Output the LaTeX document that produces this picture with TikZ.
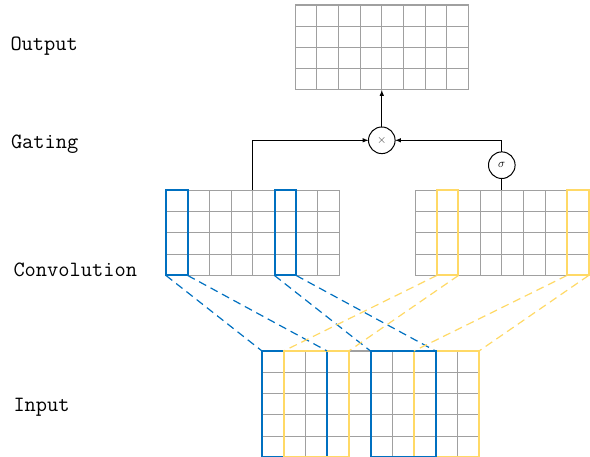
\documentclass[tikz,border=0pt]{standalone}
\usepackage{amsmath}
\usepackage{xcolor}
\usepackage{tikz}
\usetikzlibrary{arrows,positioning}

\definecolor{cblue}{HTML}{0070C0}
\definecolor{cyellow}{HTML}{FFD966}
\definecolor{cgray}{HTML}{A0A0A0}

% grid of cells: name, south west corner, columns, rows
\newcommand{\cellgrid}[4]{%
  \node[gridbox, minimum width=#3*21.7pt, minimum height=#4*21.25pt] (#1) at (#2) {};
  \draw[cgray, line width=1pt, xstep=21.7pt, ystep=21.25pt, shift={(#1.south west)}] (0,0) grid (#3*21.7pt,#4*21.25pt);
}

\begin{document}
\begin{tikzpicture}[x=1pt,y=1pt,>=latex,line width=1pt]
        \tikzstyle{gridbox} = [draw=cgray, inner sep=0, outer sep=0, anchor=south west]
        \tikzstyle{fblue} = [draw=cblue, line width=2pt, inner sep=0, outer sep=0, anchor=south west, minimum width=21.7pt, minimum height=4*21.25pt]
        \tikzstyle{fyel} = [fblue, draw=cyellow]
        \tikzstyle{iblue} = [fblue, minimum width=3*21.7pt, minimum height=5*21.25pt]
        \tikzstyle{iyel} = [iblue, draw=cyellow]
        \tikzstyle{op} = [draw, circle, minimum size=26.6pt, inner sep=0, outer sep=0]
        \tikzstyle{lbl} = [anchor=base west, inner sep=0, font=\fontsize{21.8}{24}\selectfont\ttfamily]
        \tikzstyle{dblue} = [cblue, line width=1.2pt, dash pattern=on 8pt off 5pt]
        \tikzstyle{dyel} = [cyellow, line width=1.2pt, dash pattern=on 8pt off 5pt]
        \useasboundingbox (0,0) rectangle (590,456);

        \cellgrid{out}{295,366}{8}{4}
        \cellgrid{cl}{166,180.5}{8}{4}
        \cellgrid{cr}{415,180.5}{8}{4}
        \cellgrid{inp}{262,-1.25}{10}{5}

        % filters on the convolution rows
        \node[fblue] (b1) at (cl.south west) {};
        \node[fblue, xshift=5*21.7pt] (b2) at (cl.south west) {};
        \node[fyel, xshift=1*21.7pt] (y1) at (cr.south west) {};
        \node[fyel, xshift=7*21.7pt] (y2) at (cr.south west) {};

        % receptive fields on the input
        \node[iblue] (ib1) at (inp.south west) {};
        \node[iyel, xshift=1*21.7pt] (iy1) at (inp.south west) {};
        \node[iyel, xshift=7*21.7pt] (iy2) at (inp.south west) {};
        \node[iblue, xshift=5*21.7pt] (ib2) at (inp.south west) {};

        \draw[dblue] (b1.south west) -- (ib1.north west);
        \draw[dblue] (b1.south east) -- (ib1.north east);
        \draw[dblue] (b2.south west) -- (ib2.north west);
        \draw[dblue] (b2.south east) -- (ib2.north east);
        \draw[dyel] (y1.south west) -- (iy1.north west);
        \draw[dyel] (y1.south east) -- (iy1.north east);
        \draw[dyel] (y2.south west) -- (iy2.north west);
        \draw[dyel] (y2.south east) -- (iy2.north east);

        % gating
        \node[op, below=37pt of out] (mult) {\fontsize{13}{15}\selectfont\textcolor{darkgray}{$\times$}};
        \node[op, above=12pt of cr] (sig) {\fontsize{12}{14}\selectfont$\sigma$};

        \draw [->] (mult) -- (out);
        \draw [->] (cl.north) |- (mult.west);
        \draw [->] (sig.north) |- (mult.east);
        \draw (sig) -- (cr);

        \node[lbl] (lout) at (10,405) {Output};
        \node[lbl] (lgat) at (10.5,307.7) {Gating};
        \node[lbl] (lconv) at (13,179) {Convolution};
        \node[lbl] (lin) at (13,45) {Input};
\end{tikzpicture}
\end{document}
